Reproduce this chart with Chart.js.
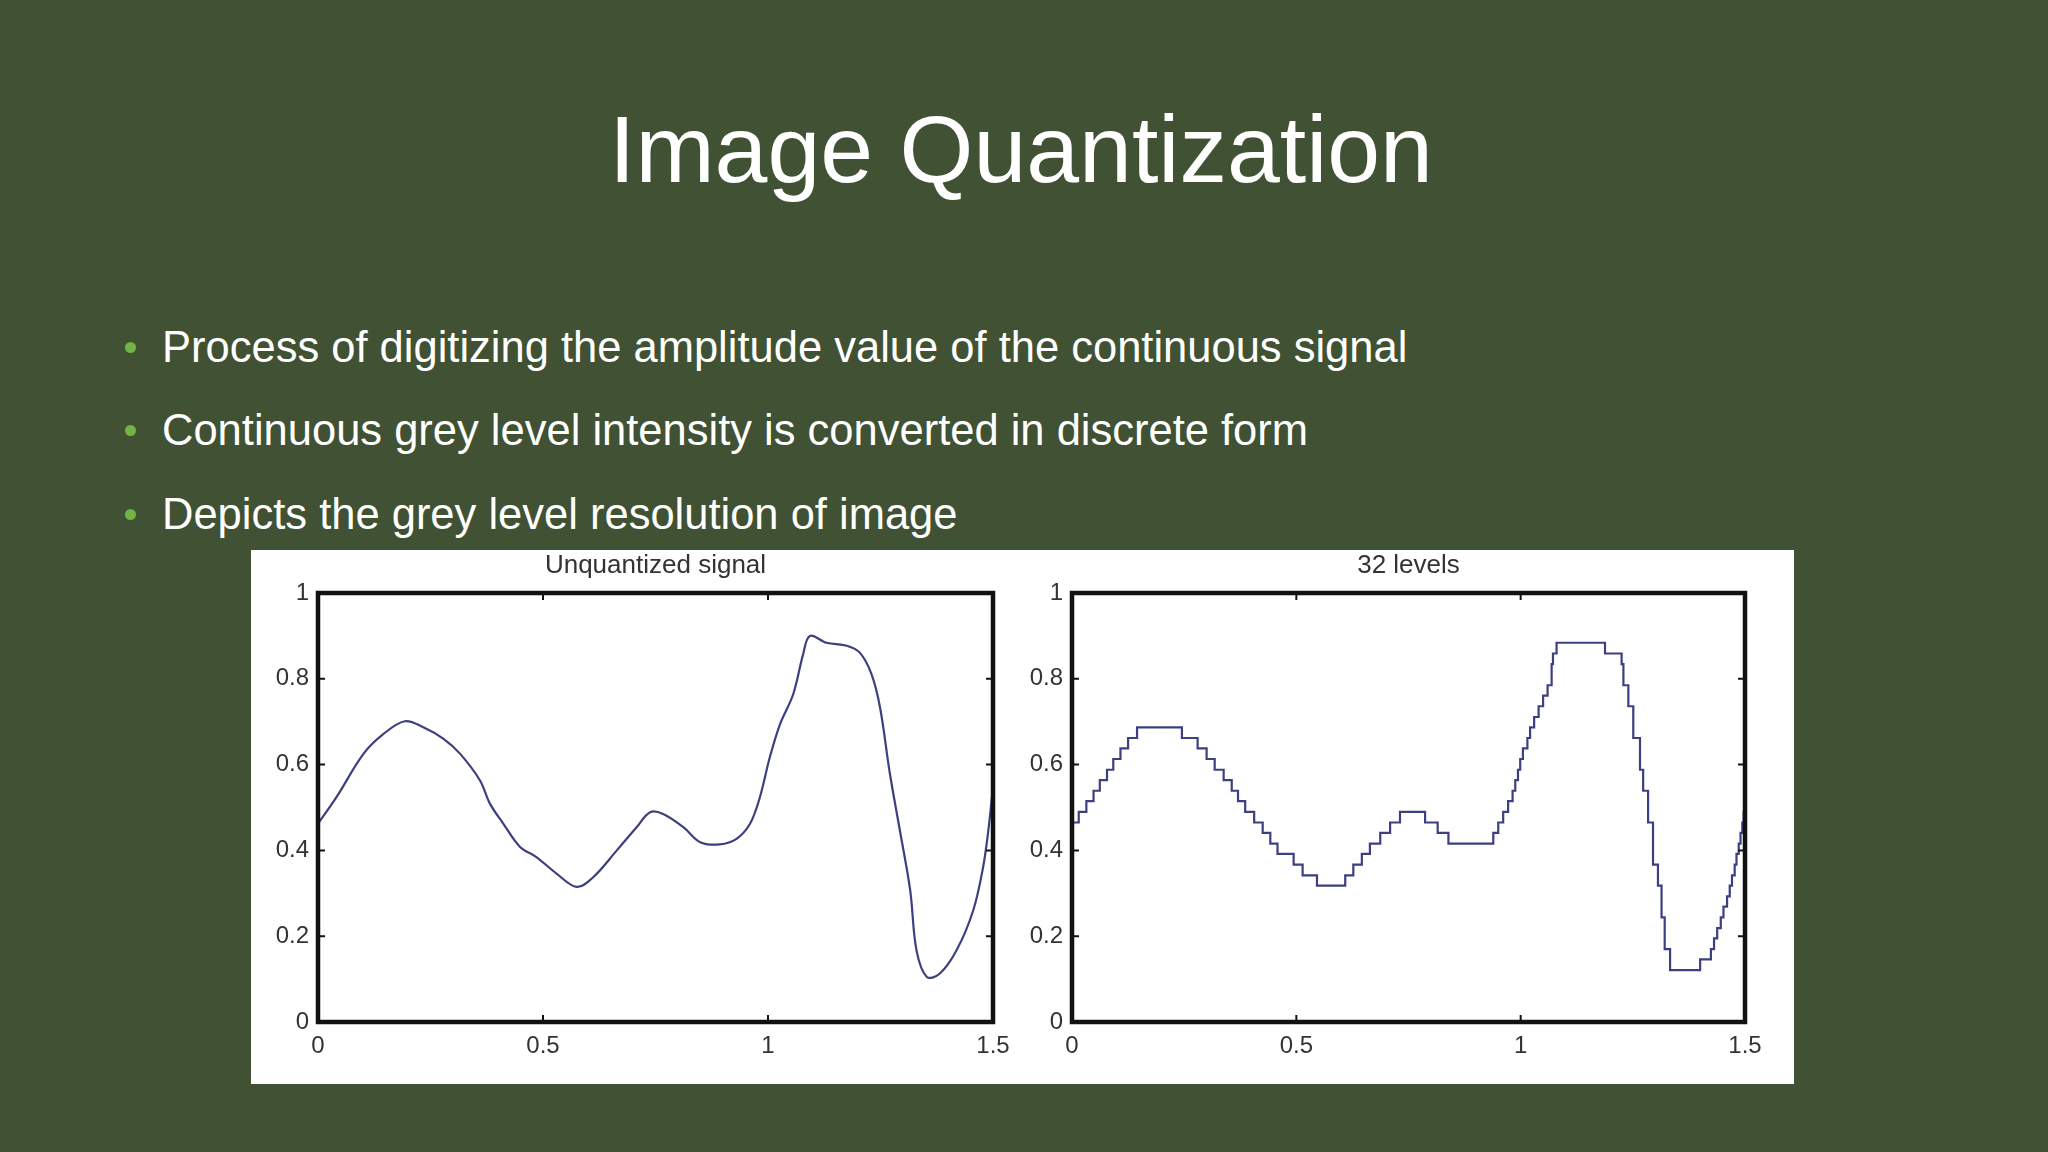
<!DOCTYPE html>
<html>
<head>
<meta charset="utf-8">
<title>Image Quantization</title>
<script src="https://cdn.jsdelivr.net/npm/chart.js@4.4.1/dist/chart.umd.min.js"></script>
<style>
  html, body { margin: 0; padding: 0; }
  body {
    width: 2048px; height: 1152px; position: relative; overflow: hidden;
    background: #405233; color: #fff;
    font-family: 'Liberation Sans', Arial, sans-serif;
  }
  h1 {
    position: absolute; left: 0; top: 102px; width: 2042px; margin: 0;
    text-align: center; font-weight: normal; font-size: 95px; line-height: 95px;
  }
  .bullet {
    position: absolute; left: 162px; font-size: 43.5px; line-height: 43.5px; white-space: nowrap;
  }
  .bullet::before {
    content: ''; position: absolute; left: -37px; top: 16px;
    width: 11px; height: 11px; border-radius: 50%; background: #73b545;
  }
  #panel { position: absolute; left: 251px; top: 550px; width: 1543px; height: 534px; background: #fff; }
  .plot { position: absolute; top: 550px; height: 534px; }
</style>
</head>
<body>
<h1>Image Quantization</h1>
<div class="bullet" style="top:326px">Process of digitizing the amplitude value of the continuous signal</div>
<div class="bullet" style="top:409px">Continuous grey level intensity is converted in discrete form</div>
<div class="bullet" style="top:493px">Depicts the grey level resolution of image</div>

<div id="panel"></div>
<div class="plot" style="left:251px; width:779px"><canvas id="leftChart"></canvas></div>
<div class="plot" style="left:1000px; width:794px"><canvas id="rightChart"></canvas></div>

<script>
// axis ticks
const xTickValues = [0, 0.5, 1, 1.5];
const xTickLabels = ['0', '0.5', '1', '1.5'];
const yTickValues = [0, 0.2, 0.4, 0.6, 0.8, 1];
const yTickLabels = ['0', '0.2', '0.4', '0.6', '0.8', '1'];

// unquantized signal
const signalX = [0, 0.041, 0.101, 0.145, 0.193, 0.234, 0.279, 0.316, 0.36, 0.382, 0.412, 0.449, 0.486, 0.53, 0.575,
  0.612, 0.664, 0.708, 0.738, 0.767, 0.812, 0.849, 0.893, 0.93, 0.96, 0.982, 1.004, 1.027, 1.056, 1.078, 1.093,
  1.13, 1.175, 1.204, 1.23, 1.249, 1.271, 1.293, 1.316, 1.33, 1.353, 1.382, 1.419, 1.456, 1.478, 1.49, 1.5];
const signalY = [0.462, 0.524, 0.625, 0.671, 0.701, 0.687, 0.66, 0.625, 0.563, 0.509, 0.462, 0.408, 0.384, 0.346, 0.315,
  0.338, 0.4, 0.454, 0.489, 0.485, 0.454, 0.419, 0.414, 0.427, 0.462, 0.524, 0.617, 0.695, 0.764, 0.857, 0.9,
  0.884, 0.877, 0.861, 0.811, 0.733, 0.578, 0.447, 0.307, 0.167, 0.105, 0.113, 0.167, 0.26, 0.361, 0.45, 0.55];

// 32 levels: x where each level starts, and the level
const quantX = [0, 0.015, 0.032, 0.048, 0.062, 0.078, 0.092, 0.108, 0.125, 0.145,
  0.245, 0.28, 0.3, 0.318, 0.338, 0.356, 0.37, 0.386, 0.406, 0.425,
  0.442, 0.458, 0.494, 0.514, 0.546, 0.609, 0.627, 0.646, 0.664, 0.687,
  0.709, 0.731, 0.787, 0.815, 0.839, 0.939, 0.95, 0.961, 0.972, 0.982,
  0.988, 0.994, 0.999, 1.005, 1.015, 1.021, 1.03, 1.04, 1.05, 1.06,
  1.069, 1.072, 1.08, 1.188, 1.225, 1.229, 1.24, 1.251, 1.266, 1.273,
  1.284, 1.295, 1.306, 1.314, 1.321, 1.333, 1.4, 1.424, 1.431, 1.438,
  1.446, 1.452, 1.46, 1.466, 1.471, 1.477, 1.481, 1.486, 1.49, 1.494,
  1.497, 1.5];
const quantY = [0.465, 0.49, 0.515, 0.539, 0.564, 0.588, 0.613, 0.638, 0.662, 0.687,
  0.662, 0.638, 0.613, 0.588, 0.564, 0.539, 0.515, 0.49, 0.465, 0.441,
  0.416, 0.392, 0.367, 0.342, 0.318, 0.342, 0.367, 0.392, 0.416, 0.441,
  0.465, 0.49, 0.465, 0.441, 0.416, 0.441, 0.465, 0.49, 0.515, 0.539,
  0.564, 0.588, 0.613, 0.638, 0.662, 0.687, 0.711, 0.736, 0.761, 0.785,
  0.834, 0.859, 0.884, 0.859, 0.834, 0.785, 0.736, 0.662, 0.588, 0.539,
  0.465, 0.367, 0.318, 0.244, 0.17, 0.121, 0.146, 0.17, 0.195, 0.219,
  0.244, 0.269, 0.293, 0.318, 0.342, 0.367, 0.392, 0.416, 0.441, 0.465,
  0.49, 0.49];

Chart.defaults.font.family = "'Liberation Sans', Arial, sans-serif";
Chart.defaults.color = '#333';

// matlab style box with inward ticks
const matlabFrame = {
  id: 'matlabFrame',
  afterDatasetsDraw(chart) {
    const { ctx, chartArea: a, scales: { x, y } } = chart;
    const len = 7;
    ctx.save();
    ctx.strokeStyle = '#111';
    ctx.lineWidth = 2;
    ctx.beginPath();
    xTickValues.forEach(v => {
      const px = x.getPixelForValue(v);
      ctx.moveTo(px, a.bottom); ctx.lineTo(px, a.bottom - len);
      ctx.moveTo(px, a.top); ctx.lineTo(px, a.top + len);
    });
    yTickValues.forEach(v => {
      const py = y.getPixelForValue(v);
      ctx.moveTo(a.left, py); ctx.lineTo(a.left + len, py);
      ctx.moveTo(a.right, py); ctx.lineTo(a.right - len, py);
    });
    ctx.stroke();
    ctx.lineWidth = 4.5;
    ctx.strokeRect(a.left, a.top, a.right - a.left, a.bottom - a.top);
    ctx.restore();
  }
};

function makeChart(id, title, xs, ys, stepped, yWidth, rightPad) {
  return new Chart(document.getElementById(id), {
    type: 'line',
    data: {
      datasets: [{
        label: title,
        data: xs.map((x, i) => ({ x: x, y: ys[i] })),
        borderColor: '#3d4080',
        borderWidth: 2.2,
        pointRadius: 0,
        fill: false,
        tension: stepped ? 0 : 0.35,
        stepped: stepped
      }]
    },
    options: {
      responsive: true,
      maintainAspectRatio: false,
      animation: false,
      layout: { padding: { top: 0, right: rightPad, bottom: 0, left: 0 } },
      plugins: {
        legend: { display: false },
        tooltip: { enabled: false },
        title: {
          display: true,
          text: title,
          fullSize: false,
          color: '#333',
          font: { size: 26, weight: 'normal' },
          padding: { top: 0, bottom: 11.8 }
        }
      },
      scales: {
        x: {
          type: 'linear', min: 0, max: 1.5,
          afterBuildTicks: s => { s.ticks = xTickValues.map(v => ({ value: v })); },
          afterFit: s => { s.height = 62; },
          ticks: {
            callback: v => xTickLabels[xTickValues.indexOf(v)],
            padding: 10, font: { size: 24 }, maxRotation: 0, autoSkip: false
          },
          grid: { display: false, drawTicks: false },
          border: { display: false }
        },
        y: {
          type: 'linear', min: 0, max: 1,
          afterBuildTicks: s => { s.ticks = yTickValues.map(v => ({ value: v })); },
          afterFit: s => { s.width = yWidth; },
          ticks: {
            callback: v => yTickLabels[yTickValues.indexOf(v)],
            padding: 9, font: { size: 24 }, autoSkip: false
          },
          grid: { display: false, drawTicks: false },
          border: { display: false }
        }
      }
    },
    plugins: [matlabFrame]
  });
}

makeChart('leftChart', 'Unquantized signal', signalX, signalY, false, 67, 37);
makeChart('rightChart', '32 levels', quantX, quantY, true, 72, 49);
</script>
</body>
</html>
